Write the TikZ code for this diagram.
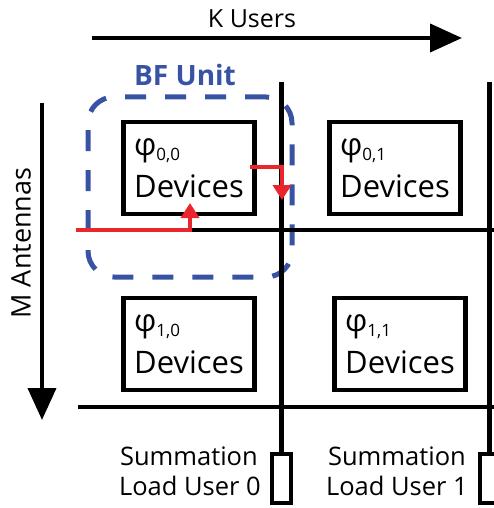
\documentclass[tikz,border=0pt]{standalone}
\usepackage{fontspec}
\setmainfont{Open Sans}
\usetikzlibrary{arrows.meta}
\definecolor{bfblue}{HTML}{3953A4}
\definecolor{sigred}{HTML}{E8262B}
\newcommand{\phisub}[1]{φ\raisebox{-5pt}{\fontsize{17}{17}\selectfont #1}}

\begin{document}
\begin{tikzpicture}[x=1pt,y=-1pt,
  wire/.style={line width=4.3pt},
  axis/.style={line width=4pt,-{Triangle[length=32pt,width=28pt]}},
  cell/.style={draw,line width=4.3pt,minimum width=131pt,minimum height=92pt,
    inner sep=0pt,align=left,font=\fontsize{31}{42}\selectfont},
  sumbox/.style={draw,line width=4.3pt,minimum width=19pt,minimum height=49pt,inner sep=0pt},
  sumtext/.style={anchor=base east,inner sep=0pt,font=\fontsize{25.5}{30}\selectfont},
  sig/.style={draw=sigred,line width=4pt,-{Triangle[length=15pt,width=18pt]}},
  bfunit/.style={draw=bfblue,line width=5pt,dash pattern=on 21pt off 19pt,
    rounded corners=26pt,minimum width=204pt,minimum height=180pt},
  lbl/.style={inner sep=0pt,anchor=base,font=\fontsize{25}{30}\selectfont}]
\useasboundingbox (0,0) rectangle (494,508);

% axis arrows and their labels
\coordinate (ku0) at (92,38);
\coordinate (ku1) at (462,38);
\draw[axis] (ku0) -- (ku1);
\node[lbl] (kusers) at (252,28) {K Users};
\coordinate (ma0) at (42,103);
\coordinate (ma1) at (42,420);
\draw[axis] (ma0) -- (ma1);
\node[lbl,anchor=center,rotate=90,font=\fontsize{27}{30}\selectfont] (mant) at (21,243) {M Antennas};

% beamforming unit outline
\node[bfunit] (bf) at (190,187) {};
\node[lbl,font=\fontsize{28}{30}\selectfont\bfseries,text=bfblue] (bflabel) at (185,86) {BF Unit};

% summation loads
\node[sumbox] (sb0) at (281.5,478.5) {};
\node[sumbox] (sb1) at (489.5,478.5) {};
\node[sumtext] (s0a) at (258,465) {Summation};
\node[sumtext] (s0b) at (261,495) {Load User 0};
\node[sumtext] (s1a) at (466,465) {Summation};
\node[sumtext] (s1b) at (468,495) {Load User 1};

% grid of wires
\coordinate (v0) at (281.5,82);
\coordinate (v1) at (489.5,82);
\draw[wire] (v0) -- (sb0.north);
\draw[wire] (v1) -- (sb1.north);
\coordinate (h0a) at (78,230);
\coordinate (h0b) at (494,230);
\coordinate (h1a) at (78,407);
\coordinate (h1b) at (494,407);
\draw[wire] (h0a) -- (h0b);
\draw[wire] (h1a) -- (h1b);

% device cells
\node[cell] (c00) at (189,168) {\phisub{0,0}\\Devices};
\node[cell] (c01) at (395,168) {\phisub{0,1}\\Devices};
\node[cell] (c10) at (189,344) {\phisub{1,0}\\Devices};
\node[cell] (c11) at (400,344) {\phisub{1,1}\\Devices};

% signal paths through the BF unit
\coordinate (r1s) at (76,230);
\coordinate (r1e) at (190,203);
\draw[sig] (r1s) -| (r1e);
\coordinate (r2s) at (250,167);
\coordinate (r2e) at (282,200);
\draw[sig] (r2s) -| (r2e);
\end{tikzpicture}
\end{document}
